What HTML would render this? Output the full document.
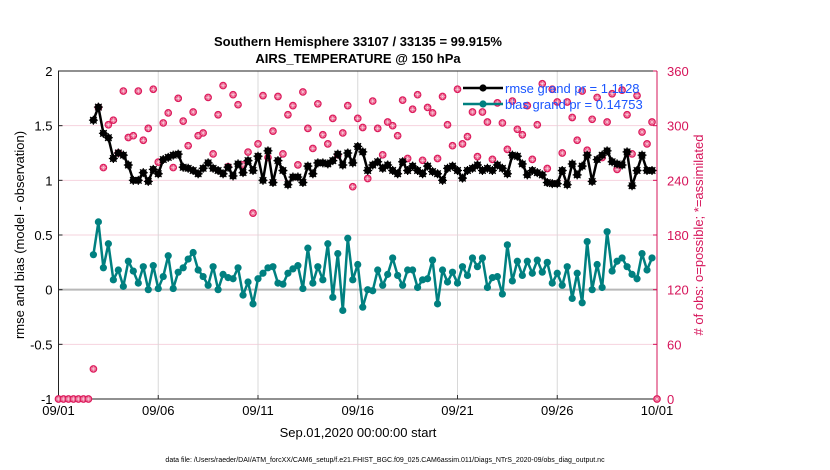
<!DOCTYPE html>
<html><head><meta charset="utf-8"><style>
body{margin:0;background:#fff;}
svg{display:block;font-family:"Liberation Sans",Arial,sans-serif;}
</style></head><body>
<svg id="chart" width="830" height="470" viewBox="0 0 830 470">
<g id="grid"></g>
<g id="axes"></g>
<g id="series"></g>
<text x="358" y="46" text-anchor="middle" font-size="13" font-weight="bold">Southern Hemisphere 33107 / 33135 = 99.915%</text>
<text x="358" y="63" text-anchor="middle" font-size="13" font-weight="bold">AIRS_TEMPERATURE @ 150 hPa</text>
<text x="358" y="437" text-anchor="middle" font-size="13">Sep.01,2020 00:00:00 start</text>
<text x="24" y="235" text-anchor="middle" font-size="13" transform="rotate(-90 24 235)">rmse and bias (model - observation)</text>
<text x="703" y="235" text-anchor="middle" font-size="13" fill="#d6145a" transform="rotate(-90 703 235)"># of obs: o=possible; *=assimilated</text>
<text x="385" y="462" text-anchor="middle" font-size="7">data file: /Users/raeder/DAI/ATM_forcXX/CAM6_setup/f.e21.FHIST_BGC.f09_025.CAM6assim.011/Diags_NTrS_2020-09/obs_diag_output.nc</text>
</svg>
<script>
const xTickLabels = ["09/01","09/06","09/11","09/16","09/21","09/26","10/01"];
const yTicks = [-1,-0.5,0,0.5,1,1.5,2];
const yTickLabels = ["-1","-0.5","0","0.5","1","1.5","2"];
const rTicks = [0,60,120,180,240,300,360];
const rmse = [null,null,null,null,null,null,null,
1.55,1.67,1.43,1.39,1.20,1.25,1.23,1.14,1.00,1.00,1.07,0.99,1.10,1.06,1.19,1.21,1.23,1.24,1.12,1.11,1.09,1.06,1.11,1.16,1.11,1.09,1.06,1.12,
1.04,1.15,1.07,1.18,1.09,1.22,1.00,1.27,0.98,1.18,1.09,0.96,1.03,1.03,0.98,1.13,1.06,1.16,1.16,1.15,1.18,1.24,1.14,1.25,1.16,1.31,1.26,1.09,
1.14,1.17,1.11,1.14,1.09,1.06,1.17,1.09,1.13,1.09,1.06,1.13,1.08,1.06,1.00,1.11,1.13,1.09,1.02,1.09,1.11,1.14,1.09,1.11,1.09,1.14,1.11,1.06,
1.23,1.22,1.15,1.05,1.09,1.07,1.05,0.98,0.97,0.97,1.09,0.96,1.15,1.05,1.13,1.23,0.99,1.19,1.23,1.27,1.17,1.15,1.14,1.26,0.95,1.09,1.23,1.09,1.09,null];
const bias = [null,null,null,null,null,null,null,
0.32,0.62,0.20,0.42,0.09,0.18,0.03,0.26,0.17,0.06,0.21,0.00,0.22,0.01,0.12,0.31,0.01,0.16,0.20,0.28,0.34,0.18,0.12,0.04,0.21,0.00,0.14,0.11,
0.10,0.20,-0.05,0.07,-0.13,0.10,0.15,0.20,0.21,0.06,0.05,0.15,0.19,0.22,0.01,0.38,0.06,0.21,0.09,0.42,-0.07,0.33,-0.19,0.47,0.09,0.23,-0.16,0.00,
-0.01,0.18,0.04,0.14,0.29,0.13,0.04,0.18,0.18,0.02,0.09,0.10,0.27,-0.13,0.18,0.07,0.16,0.06,0.21,0.13,0.29,0.21,0.29,0.02,0.11,0.12,-0.04,0.41,
0.08,0.26,0.13,0.26,0.15,0.27,0.16,0.25,0.06,0.15,0.04,0.21,-0.08,0.15,-0.12,0.44,0.00,0.23,0.02,0.53,0.17,0.26,0.29,0.21,0.14,0.10,0.33,0.18,0.29,null];
const obsCount = [0,0,0,0,0,0,0,33,
320,254,301,306,270,338,287,289,338,284,297,340,260,303,314,254,330,305,278,315,289,292,331,269,312,344,255,
334,323,257,271,204,280,333,265,294,332,269,312,322,257,337,297,275,324,290,280,308,268,292,322,233,308,298,242,327,
297,268,304,300,289,328,264,318,334,262,320,314,264,332,301,278,340,280,288,315,266,315,304,263,325,303,274,
327,296,290,322,263,301,346,253,340,326,270,326,309,284,338,273,307,331,265,304,335,252,339,312,269,333,293,280,304,0];
const legendLabels = ["rmse grand pr = 1.1128","bias grand pr = 0.14753"];

const NS="http://www.w3.org/2000/svg";
const X0=58.5,X1=657,Y0=399,Y1=71, N=120;
const xs=i=>X0+(X1-X0)*i/N;
const ys=v=>Y0-(v+1)/3*(Y0-Y1);
const yr=c=>Y0-c/360*(Y0-Y1);
function mk(tag,attrs,parent){const e=document.createElementNS(NS,tag);for(const k in attrs)e.setAttribute(k,attrs[k]);parent.appendChild(e);return e;}
const grid=document.getElementById('grid'),axes=document.getElementById('axes'),ser=document.getElementById('series');
yTicks.forEach((v,k)=>{if(v===-1||v===2||v===0)return;const l=mk('line',{x1:X0,x2:X1,y1:ys(v),y2:ys(v),stroke:'#f6d3de','stroke-width':1},grid);

});
xTickLabels.forEach((t,k)=>{const x=xs(k*20);if(k>0&&k<6){const l=mk('line',{x1:x,x2:x,y1:Y1,y2:Y0,stroke:'#d8d8d8','stroke-width':1},grid);

}
const tl=mk('line',{x1:x,x2:x,y1:Y0,y2:Y0-4,stroke:'#333'},axes);


const tx=mk('text',{x:x,y:Y0+16,'text-anchor':'middle','font-size':13},axes);tx.textContent=t;

});
const z=mk('line',{x1:X0,x2:X1,y1:ys(0),y2:ys(0),stroke:'#b8b8b8','stroke-width':2},grid);


const fr=mk('path',{d:`M${X1},${Y1}H${X0}V${Y0}H${X1}`,fill:'none',stroke:'#222','stroke-width':1},axes);


const ra=mk('line',{x1:X1,x2:X1,y1:Y1,y2:Y0,stroke:'#d6145a','stroke-width':1},axes);


yTicks.forEach((v,k)=>{const t=mk('text',{x:X0-6,y:ys(v)+5,'text-anchor':'end','font-size':13},axes);t.textContent=yTickLabels[k];


const tk=mk('line',{x1:X0,x2:X0+4,y1:ys(v),y2:ys(v),stroke:'#222'},axes);

});
rTicks.forEach(c=>{const t=mk('text',{x:X1+10,y:yr(c)+5,'font-size':13,fill:'#d6145a'},axes);t.textContent=String(c);


const tk=mk('line',{x1:X1-4,x2:X1,y1:yr(c),y2:yr(c),stroke:'#d6145a'},axes);

});
obsCount.forEach((c,i)=>{const g=mk('g',{},ser);


const x=xs(i),y=yr(c);mk('circle',{cx:x,cy:y,r:3.3,fill:'#e8507f',stroke:'#dc1a5c','stroke-width':1.1},g);
mk('path',{d:`M${x-2.6},${y}H${x+2.6}M${x},${y-2.6}V${y+2.6}M${x-1.8},${y-1.8}L${x+1.8},${y+1.8}M${x-1.8},${y+1.8}L${x+1.8},${y-1.8}`,stroke:'#fbe0ea','stroke-width':0.5},g);});
function line(vals,col,name,star){let d='';vals.forEach((v,i)=>{if(v==null)return;d+=(d?'L':'M')+xs(i)+','+ys(v);});
const p=mk('path',{d:d,fill:'none',stroke:col,'stroke-width':2.5,'stroke-linejoin':'round'},ser);


vals.forEach((v,i)=>{if(v==null)return;const x=xs(i),y=ys(v);const c=mk('circle',{cx:x,cy:y,r:3.6,fill:col},ser);


if(star){mk('path',{d:`M${x-4.5},${y}H${x+4.5}M${x},${y-4.5}V${y+4.5}M${x-3.3},${y-3.3}L${x+3.3},${y+3.3}M${x-3.3},${y+3.3}L${x+3.3},${y-3.3}`,stroke:col,'stroke-width':1.2},ser);}});}
line(bias,'#008080','bias',false);
line(rmse,'#000','rmse',true);
[['#000',88],['#008080',104]].forEach((a,k)=>{const g=mk('g',{},ser);


mk('line',{x1:463,x2:503,y1:a[1],y2:a[1],stroke:a[0],'stroke-width':2.5},g);
mk('circle',{cx:483,cy:a[1],r:3.6,fill:a[0]},g);
const t=mk('text',{x:505,y:a[1]+5,'font-size':13,fill:'#1a55ff'},g);t.textContent=legendLabels[k];});
</script>
</body></html>
